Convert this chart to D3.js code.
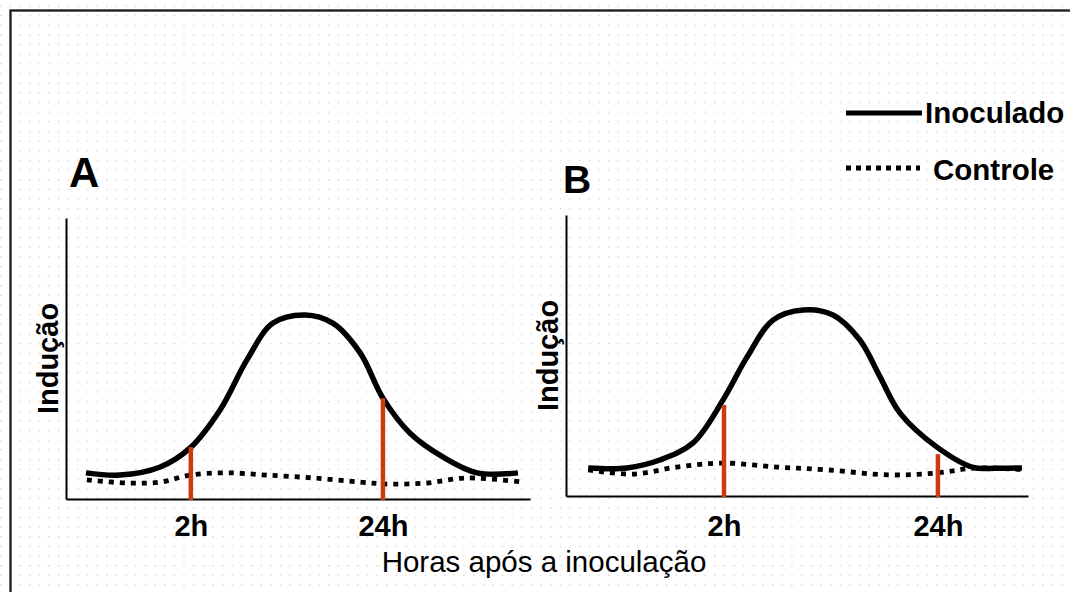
<!DOCTYPE html>
<html>
<head>
<meta charset="utf-8">
<script src="https://cdn.jsdelivr.net/npm/d3@7"></script>
<style>
  body { margin: 0; background: #fff; }
  text { font-family: "Liberation Sans", Arial, sans-serif; fill: #000; }
</style>
</head>
<body>
<div class="holder"></div>
<script>
const width = 1070;
const height = 592;

// x in % of axis length, y in % of axis height
const inocA_x = [4.3, 11.6, 20.3, 26.7, 33.2, 39.0, 44.6, 51.5, 57.5, 63.4, 68.3, 74.1, 81.3, 88.6, 97.4];
const inocA_y = [9.3, 8.5, 11.4, 18.1, 31.7, 49.5, 62.6, 65.5, 62.6, 52.0, 35.9, 23.5, 14.9, 9.3, 9.3];
const ctrlA_x = [4.5, 13.1, 20.3, 26.7, 34.7, 43.3, 53.2, 63.4, 69.8, 77.8, 86.4, 98.5];
const ctrlA_y = [6.8, 5.7, 6.0, 8.5, 9.3, 8.5, 7.5, 6.0, 5.3, 5.7, 7.5, 6.0];

const inocB_x = [4.8, 13.2, 20.3, 27.5, 34.0, 39.2, 44.8, 51.3, 57.8, 63.6, 68.0, 72.3, 80.3, 88.1, 93.0, 98.7];
const inocB_y = [10.0, 10.0, 12.8, 18.9, 34.2, 49.5, 62.6, 66.2, 64.4, 55.5, 42.3, 29.5, 17.4, 10.2, 9.9, 10.0];
const ctrlB_x = [4.8, 14.5, 24.0, 34.0, 45.7, 56.5, 70.1, 80.3, 89.0, 99.4];
const ctrlB_y = [9.3, 7.8, 10.3, 11.7, 10.3, 9.3, 7.5, 8.2, 10.0, 9.3];

const tickLabels = ['2h', '24h'];
const markA_x = [26.9, 68.3];
const markA_y = [18.5, 35.9];
const markB_x = [34.2, 80.5];
const markB_y = [32.4, 14.9];

const legendLabels = ['Inoculado', 'Controle'];

const red = '#cc3a10';

const svg = d3
  .select('.holder')
  .append('svg')
  .attr('width', width)
  .attr('height', height);

// dotted paper background
const pat = svg.append('defs')
  .append('pattern')
  .attr('id', 'dots')
  .attr('patternUnits', 'userSpaceOnUse')
  .attr('width', 9.65)
  .attr('height', 9.65)
  .attr('x', 0)
  .attr('y', 5.3);
pat.append('circle')
  .attr('cx', 0.3)
  .attr('cy', 0.3)
  .attr('r', 1.2)
  .style('fill', '#d2d2d2');

svg.append('rect')
  .attr('width', width)
  .attr('height', height)
  .style('fill', 'url(#dots)');

svg.append('rect')
  .attr('x', 10.5)
  .attr('y', 10.5)
  .attr('width', width + 20)
  .attr('height', height + 20)
  .style('fill', 'none')
  .style('stroke', '#1a1a1a')
  .style('stroke-width', 2.3);

function panel(cfg) {
  const x = d3.scaleLinear().domain([0, 100]).range([cfg.x0, cfg.x1]);
  const y = d3.scaleLinear().domain([0, 100]).range([cfg.bottom, cfg.top]);

  const xAxis = d3.axisBottom(x)
    .tickValues(cfg.markX)
    .tickFormat((d, i) => tickLabels[i])
    .tickSize(0)
    .tickSizeOuter(0)
    .tickPadding(cfg.pad);

  const gx = svg.append('g')
    .attr('transform', 'translate(0,' + cfg.bottom + ')')
    .call(xAxis);
  gx.select('.domain').style('stroke', '#000').style('stroke-width', 2);
  gx.selectAll('text')
    .style('font-family', '"Liberation Sans", Arial, sans-serif')
    .style('font-size', '29px')
    .style('font-weight', 'bold')
    .style('fill', '#000');

  const gy = svg.append('g')
    .attr('transform', 'translate(' + cfg.x0 + ',0)')
    .call(d3.axisLeft(y).tickValues([]).tickSizeOuter(0));
  gy.select('.domain').style('stroke', '#000').style('stroke-width', 2);

  const line = d3.line()
    .x(d => x(d[0]))
    .y(d => y(d[1]))
    .curve(d3.curveCatmullRom.alpha(0.5));

  svg.append('path')
    .datum(d3.zip(cfg.ctrlX, cfg.ctrlY))
    .attr('d', line)
    .style('fill', 'none')
    .style('stroke', '#000')
    .style('stroke-width', 4.8)
    .style('stroke-dasharray', '5,6');

  svg.append('path')
    .datum(d3.zip(cfg.inocX, cfg.inocY))
    .attr('d', line)
    .style('fill', 'none')
    .style('stroke', '#000')
    .style('stroke-width', 5.5)
    .style('stroke-linejoin', 'round');

  svg.selectAll(null)
    .data(d3.zip(cfg.markX, cfg.markY))
    .enter()
    .append('line')
    .attr('x1', d => x(d[0]))
    .attr('x2', d => x(d[0]))
    .attr('y1', d => y(d[1]))
    .attr('y2', cfg.bottom + 1)
    .style('stroke', red)
    .style('stroke-width', 4.5);

  svg.append('text')
    .attr('x', cfg.letterX)
    .attr('y', cfg.letterY)
    .style('font-size', cfg.letterSize + 'px')
    .style('font-weight', 'bold')
    .text(cfg.letter);

  svg.append('text')
    .attr('transform', 'translate(' + cfg.ylabX + ',' + ((cfg.top + cfg.bottom) / 2) + ') rotate(-90)')
    .attr('text-anchor', 'middle')
    .style('font-size', '29px')
    .style('font-weight', 'bold')
    .text('Indução');
}

panel({
  x0: 66, x1: 530, top: 218, bottom: 499, pad: 16,
  inocX: inocA_x, inocY: inocA_y, ctrlX: ctrlA_x, ctrlY: ctrlA_y,
  markX: markA_x, markY: markA_y,
  letter: 'A', letterX: 69, letterY: 187, letterSize: 42, ylabX: 58
});

panel({
  x0: 566, x1: 1028, top: 215, bottom: 496, pad: 19,
  inocX: inocB_x, inocY: inocB_y, ctrlX: ctrlB_x, ctrlY: ctrlB_y,
  markX: markB_x, markY: markB_y,
  letter: 'B', letterX: 563, letterY: 193, letterSize: 39, ylabX: 558
});

svg.append('text')
  .attr('x', 544)
  .attr('y', 572)
  .attr('text-anchor', 'middle')
  .style('font-size', '29.5px')
  .text('Horas após a inoculação');

// legend
const legendY = [113, 168];
const legendTextX = [925, 933];
const legendTextY = [123, 180];

const lg = svg.append('g');
lg.selectAll('line')
  .data(legendLabels)
  .enter()
  .append('line')
  .attr('x1', 846)
  .attr('x2', (d, i) => i === 0 ? 922 : 920)
  .attr('y1', (d, i) => legendY[i])
  .attr('y2', (d, i) => legendY[i])
  .style('stroke', '#000')
  .style('stroke-width', 5)
  .style('stroke-dasharray', (d, i) => i === 0 ? null : '5,5');

lg.selectAll('text')
  .data(legendLabels)
  .enter()
  .append('text')
  .attr('x', (d, i) => legendTextX[i])
  .attr('y', (d, i) => legendTextY[i])
  .style('font-size', '29.5px')
  .style('font-weight', 'bold')
  .text(d => d);
</script>
</body>
</html>
